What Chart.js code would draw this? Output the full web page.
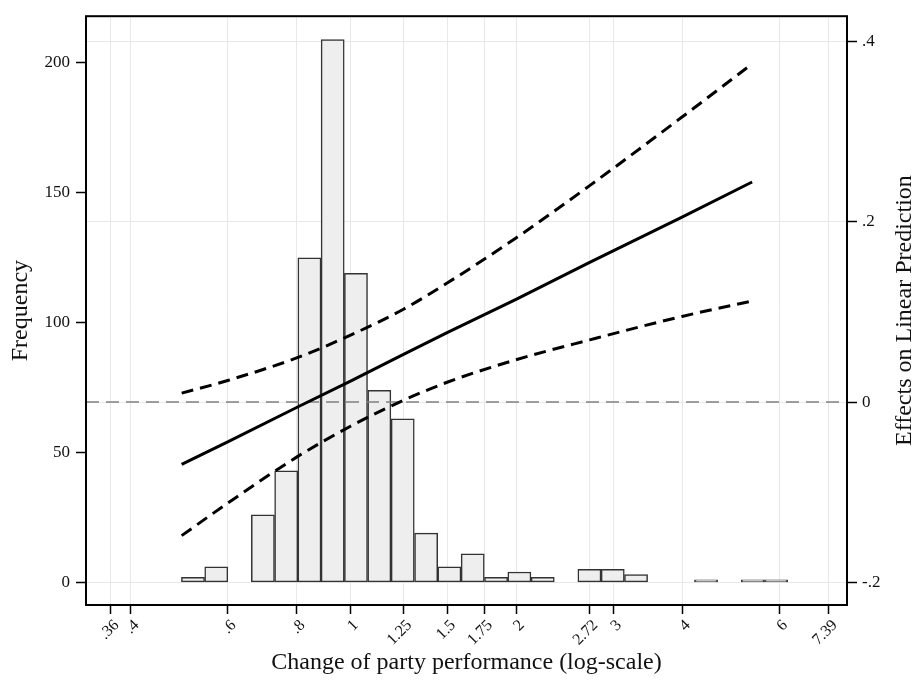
<!DOCTYPE html>
<html>
<head>
<meta charset="utf-8">
<script src="https://cdn.jsdelivr.net/npm/chart.js@4.4.1/dist/chart.umd.min.js"></script>
<style>
  html, body { margin: 0; padding: 0; background: #fff; }
  #wrap { width: 921px; height: 681px; }
</style>
</head>
<body>
<div id="wrap"><canvas id="chart"></canvas></div>
<script>
// histogram bins (centre of each bin on the original scale) and counts
const binCenters = [0.519, 0.572, 0.630, 0.695, 0.766, 0.844, 0.930, 1.025, 1.130, 1.246, 1.374, 1.514, 1.669,
  1.840, 2.028, 2.236, 2.465, 2.717, 2.995, 3.301, 3.639, 4.012, 4.422, 4.875, 5.374, 5.924];
const binCounts = [2, 6, 0, 26, 43, 125, 209, 119, 74, 63, 19, 6, 11, 2, 4, 2, 0, 5, 5, 3, 0, 0, 1, 0, 1, 1];

// marginal effect and its confidence band
const predX = [0.495, 0.6, 0.8, 1, 1.25, 1.5, 2, 2.72, 4, 5.36];
const fitLine = [-0.069, -0.044, -0.006, 0.023, 0.053, 0.077, 0.114, 0.155, 0.205, 0.244];
const upperCI = [0.010, 0.024, 0.049, 0.074, 0.103, 0.132, 0.182, 0.240, 0.316, 0.375];
const lowerCI = [-0.148, -0.112, -0.061, -0.027, 0.002, 0.022, 0.047, 0.069, 0.095, 0.112];

const xTickValues = [0.3679, 0.4, 0.6, 0.8, 1, 1.25, 1.5, 1.75, 2, 2.718, 3, 4, 6, 7.389];
const xTickLabels = ['.36', '.4', '.6', '.8', '1', '1.25', '1.5', '1.75', '2', '2.72', '3', '4', '6', '7.39'];
const freqTicks = [0, 50, 100, 150, 200];
const effectTicks = [-0.2, 0, 0.2, 0.4];
const effectLabels = ['-.2', '0', '.2', '.4'];

const SERIF = "'Liberation Serif', 'DejaVu Serif', serif";
const X_MIN = 0.332, X_MAX = 7.966;

const pts = (xs, ys) => xs.map((x, i) => ({ x, y: ys[i] }));

const decorations = {
  id: 'decorations',
  afterDatasetDraw(chart, args) {
    if (args.meta.type !== 'bar') return;
    const { ctx, chartArea: a } = chart;
    const y = chart.scales.y2.getPixelForValue(0);
    ctx.save();
    ctx.strokeStyle = '#808080';
    ctx.lineWidth = 1.5;
    ctx.setLineDash([13, 7]);
    ctx.beginPath();
    ctx.moveTo(a.left, y);
    ctx.lineTo(a.right, y);
    ctx.stroke();
    ctx.restore();
  },
  afterDraw(chart) {
    const { ctx, chartArea: a } = chart;
    ctx.save();
    ctx.strokeStyle = '#000';
    ctx.lineWidth = 2;
    ctx.strokeRect(a.left, a.top, a.right - a.left, a.bottom - a.top);
    ctx.translate(905, (a.top + a.bottom) / 2);
    ctx.rotate(-Math.PI / 2);
    ctx.fillStyle = '#111';
    ctx.font = `24px ${SERIF}`;
    ctx.textAlign = 'center';
    ctx.textBaseline = 'middle';
    ctx.fillText('Effects on Linear Prediction', 0, 0);
    ctx.restore();
  }
};

new Chart(document.getElementById('chart'), {
  type: 'bar',
  data: {
    datasets: [
      {
        type: 'bar', label: 'Frequency', data: pts(binCenters, binCounts),
        xAxisID: 'xBins', yAxisID: 'y', order: 3, grouped: false,
        backgroundColor: '#eeeeee', borderColor: '#333', borderWidth: 1.5, borderSkipped: false,
        barPercentage: 1, categoryPercentage: 1
      },
      {
        type: 'line', label: 'Upper CI', data: pts(predX, upperCI), xAxisID: 'x', yAxisID: 'y2', order: 1,
        borderColor: '#000', borderWidth: 3, borderDash: [12, 7], pointRadius: 0, fill: false,
        cubicInterpolationMode: 'monotone'
      },
      {
        type: 'line', label: 'Lower CI', data: pts(predX, lowerCI), xAxisID: 'x', yAxisID: 'y2', order: 1,
        borderColor: '#000', borderWidth: 3, borderDash: [12, 7], pointRadius: 0, fill: false,
        cubicInterpolationMode: 'monotone'
      },
      {
        type: 'line', label: 'Effect', data: pts(predX, fitLine), xAxisID: 'x', yAxisID: 'y2', order: 1,
        borderColor: '#000', borderWidth: 3, pointRadius: 0, fill: false, tension: 0
      }
    ]
  },
  options: {
    responsive: true,
    maintainAspectRatio: false,
    animation: false,
    layout: { padding: { top: 12, left: 0, right: 0, bottom: 0 } },
    plugins: { legend: { display: false }, tooltip: { enabled: false } },
    scales: {
      x: {
        type: 'logarithmic', position: 'bottom', min: X_MIN, max: X_MAX, bounds: 'data', offset: false,
        afterBuildTicks: (s) => { s.ticks = xTickValues.map((v) => ({ value: v })); },
        afterFit: (s) => { s.height = 76; },
        ticks: {
          autoSkip: false, minRotation: 45, maxRotation: 45, labelOffset: 6, padding: 2,
          color: '#111', font: { family: SERIF, size: 16 },
          callback: (v, i) => xTickLabels[i]
        },
        grid: { offset: false, color: '#e8e8e8', lineWidth: 1, drawOnChartArea: true, tickLength: 9, tickColor: '#000', tickWidth: 1.5 },
        border: { display: false },
        title: { display: true, text: 'Change of party performance (log-scale)', color: '#111', font: { family: SERIF, size: 24 }, padding: { top: 0, bottom: 4 } }
      },
      xBins: {
        type: 'logarithmic', position: 'bottom', display: false, min: X_MIN, max: X_MAX, bounds: 'data', offset: false,
        afterBuildTicks: (s) => { s.ticks = binCenters.map((v) => ({ value: v })); },
        grid: { offset: false }
      },
      y: {
        position: 'left', min: -8.7, max: 218,
        afterBuildTicks: (s) => { s.ticks = freqTicks.map((v) => ({ value: v })); },
        afterFit: (s) => { s.width = 86; },
        ticks: { color: '#111', padding: 6, font: { family: SERIF, size: 17 } },
        grid: { drawOnChartArea: false, tickLength: 10, tickColor: '#000', tickWidth: 1.5 },
        border: { display: false },
        title: { display: true, text: 'Frequency', color: '#111', font: { family: SERIF, size: 24 }, padding: { top: 6, bottom: 0 } }
      },
      y2: {
        position: 'right', min: -0.2249, max: 0.4278,
        afterBuildTicks: (s) => { s.ticks = effectTicks.map((v) => ({ value: v })); },
        afterFit: (s) => { s.width = 74; },
        ticks: { color: '#111', padding: 5, font: { family: SERIF, size: 17 }, callback: (v, i) => effectLabels[i] },
        grid: { drawOnChartArea: true, color: '#e8e8e8', tickLength: 10, tickColor: '#000', tickWidth: 1.5 },
        border: { display: false }
      }
    }
  },
  plugins: [decorations]
});
</script>
</body>
</html>
